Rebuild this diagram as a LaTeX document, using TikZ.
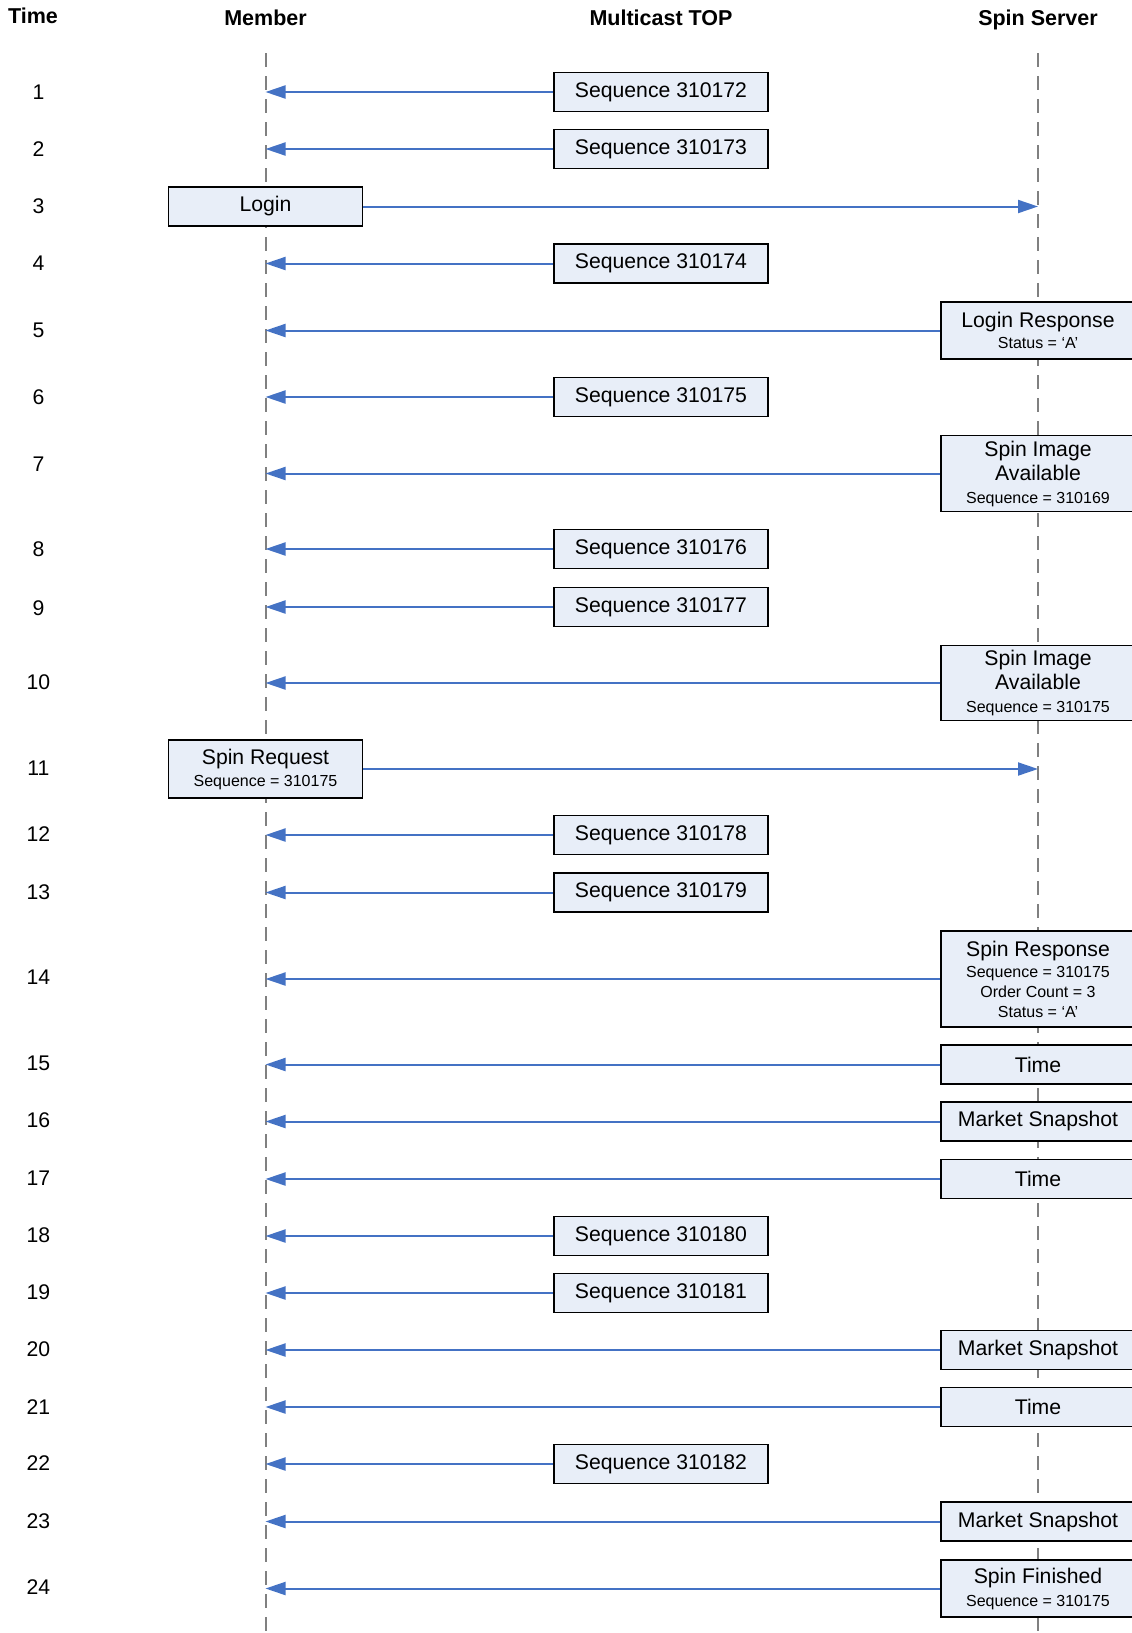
\documentclass[tikz,border=0pt]{standalone}
\usepackage{fontspec}
\setmainfont{Liberation Sans}
\usetikzlibrary{arrows.meta}
\definecolor{arrblue}{RGB}{68,114,196}
\definecolor{boxfill}{RGB}{232,238,248}
\definecolor{lifegray}{RGB}{128,128,128}
\newcommand{\sm}[1]{{\fontsize{16}{18}\selectfont #1}}
\begin{document}
\begin{tikzpicture}[x=1pt,y=-1pt,
  msg/.style={draw=black, line width=1.7pt, fill=boxfill, inner sep=0pt, align=center, font=\fontsize{21.2}{24}\selectfont},
  seqbox/.style={msg, minimum width=214pt, minimum height=39pt},
  sidebox/.style={msg, minimum width=194pt, minimum height=39pt},
  arr/.style={draw=arrblue, line width=2pt, -{Triangle[length=20pt,width=13pt]}},
  life/.style={draw=lifegray, line width=2pt, dash pattern=on 14pt off 9pt},
  hdr/.style={anchor=base, font=\bfseries\fontsize{21.5}{24}\selectfont},
  num/.style={font=\fontsize{21.2}{24}\selectfont}]
\clip (0,0) rectangle (1132,1633);
% headers
\node[hdr] (hTime) at (33,23.5) {Time};
\node[hdr] (hMember) at (265.5,25.5) {Member};
\node[hdr] (hMulti) at (661,25.5) {Multicast TOP};
\node[hdr] (hSpin) at (1038,25.5) {Spin Server};
% lifelines
\coordinate (mtop) at (265.5,53);
\coordinate (mbot) at (265.5,1640);
\coordinate (stop) at (1038,53);
\coordinate (sbot) at (1038,1640);
\draw[life] (mtop) -- (mbot);
\draw[life] (stop) -- (sbot);
% time numbers
\node[num] (t1) at (38.5,92) {1};
\node[num] (t2) at (38.5,149) {2};
\node[num] (t3) at (38.5,206) {3};
\node[num] (t4) at (38.5,263) {4};
\node[num] (t5) at (38.5,330) {5};
\node[num] (t6) at (38.5,397) {6};
\node[num] (t7) at (38.5,464) {7};
\node[num] (t8) at (38.5,549) {8};
\node[num] (t9) at (38.5,608) {9};
\node[num] (t10) at (38.5,682) {10};
\node[num] (t11) at (38.5,768.5) {11};
\node[num] (t12) at (38.5,834.5) {12};
\node[num] (t13) at (38.5,892.5) {13};
\node[num] (t14) at (38.5,977) {14};
\node[num] (t15) at (38.5,1063.5) {15};
\node[num] (t16) at (38.5,1120.5) {16};
\node[num] (t17) at (38.5,1178) {17};
\node[num] (t18) at (38.5,1235) {18};
\node[num] (t19) at (38.5,1292) {19};
\node[num] (t20) at (38.5,1349.5) {20};
\node[num] (t21) at (38.5,1407) {21};
\node[num] (t22) at (38.5,1463) {22};
\node[num] (t23) at (38.5,1521.5) {23};
\node[num] (t24) at (38.5,1587) {24};
% messages
\node[seqbox] (s1) at (661,92) {Sequence 310172};
\draw[arr] (s1.west) -- (s1.west -| mtop);
\node[seqbox] (s2) at (661,149) {Sequence 310173};
\draw[arr] (s2.west) -- (s2.west -| mtop);
\node[sidebox] (login) at (265.5,206.5) {Login};
\draw[arr] (login.east) -- (login.east -| stop);
\node[seqbox] (s4) at (661,263.5) {Sequence 310174};
\draw[arr] (s4.west) -- (s4.west -| mtop);
\node[sidebox, minimum height=57pt] (r5) at (1038,330.5) {Login Response\\[-3pt]\sm{Status = ‘A’}};
\draw[arr] (r5.west) -- (r5.west -| mtop);
\node[seqbox] (s6) at (661,397) {Sequence 310175};
\draw[arr] (s6.west) -- (s6.west -| mtop);
\node[sidebox, minimum height=76pt] (r7) at (1038,473.5) {Spin Image\\Available\\[-1pt]\sm{Sequence = 310169}};
\draw[arr] (r7.west) -- (r7.west -| mtop);
\node[seqbox] (s8) at (661,549) {Sequence 310176};
\draw[arr] (s8.west) -- (s8.west -| mtop);
\node[seqbox] (s9) at (661,607) {Sequence 310177};
\draw[arr] (s9.west) -- (s9.west -| mtop);
\node[sidebox, minimum height=75pt] (r10) at (1038,683) {Spin Image\\Available\\[-1pt]\sm{Sequence = 310175}};
\draw[arr] (r10.west) -- (r10.west -| mtop);
\node[sidebox, minimum height=58pt] (req) at (265.5,769) {Spin Request\\[-2pt]\sm{Sequence = 310175}};
\draw[arr] (req.east) -- (req.east -| stop);
\node[seqbox] (s12) at (661,835) {Sequence 310178};
\draw[arr] (s12.west) -- (s12.west -| mtop);
\node[seqbox] (s13) at (661,892.5) {Sequence 310179};
\draw[arr] (s13.west) -- (s13.west -| mtop);
\node[sidebox, minimum height=96pt] (r14) at (1038,979) {Spin Response\\[-3pt]\sm{Sequence = 310175}\\[-4pt]\sm{Order Count = 3}\\[-4pt]\sm{Status = ‘A’}};
\draw[arr] (r14.west) -- (r14.west -| mtop);
\node[sidebox] (r15) at (1038,1064.5) {Time};
\draw[arr] (r15.west) -- (r15.west -| mtop);
\node[sidebox] (r16) at (1038,1121.5) {Market Snapshot};
\draw[arr] (r16.west) -- (r16.west -| mtop);
\node[sidebox] (r17) at (1038,1179) {Time};
\draw[arr] (r17.west) -- (r17.west -| mtop);
\node[seqbox] (s18) at (661,1236) {Sequence 310180};
\draw[arr] (s18.west) -- (s18.west -| mtop);
\node[seqbox] (s19) at (661,1293) {Sequence 310181};
\draw[arr] (s19.west) -- (s19.west -| mtop);
\node[sidebox] (r20) at (1038,1350) {Market Snapshot};
\draw[arr] (r20.west) -- (r20.west -| mtop);
\node[sidebox] (r21) at (1038,1407) {Time};
\draw[arr] (r21.west) -- (r21.west -| mtop);
\node[seqbox] (s22) at (661,1464) {Sequence 310182};
\draw[arr] (s22.west) -- (s22.west -| mtop);
\node[sidebox] (r23) at (1038,1521.5) {Market Snapshot};
\draw[arr] (r23.west) -- (r23.west -| mtop);
\node[sidebox, minimum height=57pt] (r24) at (1038,1588.5) {Spin Finished\\[-1pt]\sm{Sequence = 310175}};
\draw[arr] (r24.west) -- (r24.west -| mtop);
\end{tikzpicture}
\end{document}
